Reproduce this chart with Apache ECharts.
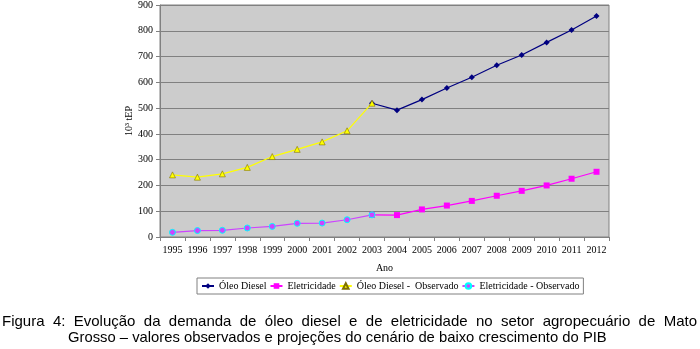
<!DOCTYPE html>
<html><head><meta charset="utf-8">
<script src="https://cdn.jsdelivr.net/npm/echarts@6/dist/echarts.min.js"></script>
<style>html,body{margin:0;padding:0;background:#fff}#c{width:700px;height:349px}</style>
</head><body><div id="c"></div>
<script>
const categories = ['1995','1996','1997','1998','1999','2000','2001','2002','2003','2004','2005','2006','2007','2008','2009','2010','2011','2012'];
const dieselProj = [null,null,null,null,null,null,null,null,519,492,533,578,620,666,706,755,803,857];
const eletProj = [null,null,null,null,null,null,null,null,86,85,107,122,140,160,179,200,226,253];
const dieselObs = [241,232,245,270,312,340,369,412,519,null,null,null,null,null,null,null,null,null];
const eletObs = [18,25,26,35,41,53,54,67,86,null,null,null,null,null,null,null,null,null];
const yTicks = {min:0, max:900, interval:100};
const names = ['Óleo Diesel','Eletricidade','Óleo Diesel -  Observado','Eletricidade - Observado'];
const caption1 = 'Figura 4: Evolução da demanda de óleo diesel e de eletricidade no setor agropecuário de Mato';
const caption2 = 'Grosso – valores observados e projeções do cenário de baixo crescimento do PIB';

const serif = '"Liberation Serif","Times New Roman",serif';
const capFont = '15px "Liberation Sans", Arial, sans-serif';

// justify caption line 1 across the full width
const ctx = document.createElement('canvas').getContext('2d');
ctx.font = capFont;
const words = caption1.split(' ');
const wWidths = words.map(w => ctx.measureText(w).width);
const lineLeft = 2, lineRight = 697;
const gap = (lineRight - lineLeft - wWidths.reduce((a,b)=>a+b,0)) / (words.length - 1);
const capGraphics = [];
let xpos = lineLeft;
words.forEach((w,i) => {
  capGraphics.push({type:'text', x:xpos, y:314, style:{text:w, font:capFont, fill:'#000'}});
  xpos += wWidths[i] + gap;
});
capGraphics.push({type:'text', x:68, y:330, style:{text:caption2, font:'14.8px "Liberation Sans", Arial, sans-serif', fill:'#000'}});

const chart = echarts.init(document.getElementById('c'));
chart.setOption({
  animation:false,
  grid:{left:160, right:91, top:3, bottom:112, show:true, backgroundColor:'#cccccc', borderColor:'#808080', borderWidth:1},
  legend:{
    left:197, top:278, padding:[3,4,3,4],
    borderColor:'#808080', borderWidth:1, itemGap:3, itemWidth:12, itemHeight:7,
    textStyle:{fontFamily:serif, fontSize:10, color:'#000'},
    data:names
  },
  xAxis:{
    type:'category', data:categories, boundaryGap:true,
    name:'Ano', nameLocation:'middle', nameGap:26,
    nameTextStyle:{fontFamily:serif, fontSize:10, color:'#000'},
    axisLine:{lineStyle:{color:'#808080'}},
    axisTick:{show:true, length:4, lineStyle:{color:'#808080'}},
    axisLabel:{fontFamily:serif, fontSize:10, color:'#000', margin:8, interval:0},
    splitLine:{show:false}
  },
  yAxis:{
    type:'value', min:yTicks.min, max:yTicks.max, interval:yTicks.interval,
    name:'10³ tEP', nameLocation:'middle', nameGap:26, nameRotate:90, nameMoveOverlap:false,
    nameTextStyle:{fontFamily:serif, fontSize:10, color:'#000'},
    axisLine:{show:true, lineStyle:{color:'#808080'}},
    axisTick:{show:true, length:4, lineStyle:{color:'#808080'}},
    axisLabel:{fontFamily:serif, fontSize:10, color:'#000', margin:7},
    splitLine:{lineStyle:{color:'#808080', width:1}}
  },
  series:[
    {name:names[0], type:'line', data:dieselProj, color:'#000080', symbol:'diamond', symbolSize:6, lineStyle:{width:1.2}},
    {name:names[1], type:'line', data:eletProj, color:'#ff00ff', symbol:'rect', symbolSize:6, lineStyle:{width:1.2}},
    {name:names[2], type:'line', data:dieselObs, color:'#ffff00', symbol:'triangle', symbolSize:6, lineStyle:{width:1.2}, itemStyle:{color:'#ffff00', borderColor:'#807000', borderWidth:0.6}},
    {name:names[3], type:'line', data:eletObs, color:'#00ffff', symbol:'circle', symbolSize:6, lineStyle:{width:1.2}, itemStyle:{color:'#cc44ff', borderColor:'#00ffff', borderWidth:1}}
  ],
  graphic:capGraphics
});
</script></body></html>
